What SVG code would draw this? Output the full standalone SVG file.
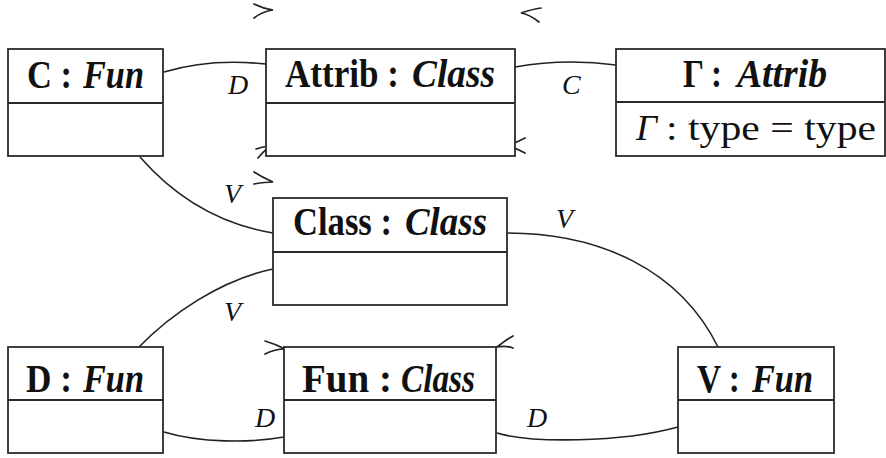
<svg xmlns="http://www.w3.org/2000/svg" width="886" height="458" viewBox="0 0 886 458">
<style>
.box{fill:#fff;stroke:#2a2a2a;stroke-width:1.8}
.div{stroke:#2a2a2a;stroke-width:1.8}
.title{font-family:"Liberation Serif","Times New Roman","DejaVu Serif",serif;font-size:41px;font-weight:bold;fill:#111}
.it{font-style:italic}
.attr{font-family:"Liberation Serif","Times New Roman","DejaVu Serif",serif;font-size:35px;fill:#111}
.lbl{font-family:"Liberation Serif","Times New Roman","DejaVu Serif",serif;font-size:28px;font-style:italic;fill:#111}
.edge{fill:none;stroke:#222;stroke-width:1.6}
.tip{fill:none;stroke:#222;stroke-width:1.7;stroke-linecap:round}
</style>
<rect width="886" height="458" fill="#fff"/>
<g id="connectors">
<path class="edge" d="M164,72 Q 210,58 266,64"/>
<path class="edge" d="M515,67 Q 565,58 616,65"/>
<path class="edge" d="M140,157 Q 195,220 273,233"/>
<path class="edge" d="M507,233 C 600,233 680,270 718,347"/>
<path class="edge" d="M139,347 C 170,315 220,280 273,269"/>
<path class="edge" d="M164,432 C 200,443 250,443 284,437"/>
<path class="edge" d="M497,433 C 530,443 620,443 678,427"/>
<path class="tip" d="M254,4 C 260,7 266,9 273,10 C 266,11 259,14 254,18"/>
<path class="tip" d="M541,8 C 534,9 527,11 521,13 C 528,14 534,18 539,22"/>
<path class="tip" d="M256,149 C 262,147 268,146 273,145 C 267,148 262,153 258,158"/>
<path class="tip" d="M254,172 C 260,176 266,179 273,182 C 266,182 260,183 254,184"/>
<path class="tip" d="M525,138 C 519,141 513,144 507,146 C 513,147 519,150 525,153"/>
<path class="tip" d="M265,341 C 272,343 279,346 285,349 C 278,349 271,351 265,354"/>
<path class="tip" d="M513,336 C 507,339 502,343 497,347 C 503,346 508,346 513,348"/>
<text class="lbl" x="228" y="94">D</text>
<text class="lbl" x="562" y="94">C</text>
<text class="lbl" x="224" y="203">V</text>
<text class="lbl" x="556" y="228">V</text>
<text class="lbl" x="224" y="321">V</text>
<text class="lbl" x="255" y="427">D</text>
<text class="lbl" x="527" y="427">D</text>
</g>
<g id="node-C">
<rect class="box" x="8" y="49" width="155" height="107"/>
<line class="div" x1="8" y1="103" x2="163" y2="103"/>
<text class="title" x="27" y="88" textLength="45" lengthAdjust="spacingAndGlyphs">C :</text>
<text class="title it" x="83" y="88" textLength="61" lengthAdjust="spacingAndGlyphs">Fun</text>
</g>
<g id="node-Attrib">
<rect class="box" x="266" y="49" width="249" height="107"/>
<line class="div" x1="266" y1="103" x2="515" y2="103"/>
<text class="title" x="285" y="87" textLength="114" lengthAdjust="spacingAndGlyphs">Attrib :</text>
<text class="title it" x="412" y="87" textLength="83" lengthAdjust="spacingAndGlyphs">Class</text>
</g>
<g id="node-Gamma">
<rect class="box" x="616" y="49" width="269" height="107"/>
<line class="div" x1="616" y1="102" x2="885" y2="102"/>
<text class="title" x="683" y="87" textLength="39" lengthAdjust="spacingAndGlyphs">Γ :</text>
<text class="title it" x="737" y="87" textLength="90" lengthAdjust="spacingAndGlyphs">Attrib</text>
<text class="attr it" x="636" y="140" textLength="21" lengthAdjust="spacingAndGlyphs">Γ</text>
<text class="attr" x="666" y="140" textLength="210" lengthAdjust="spacingAndGlyphs">: type = type</text>
</g>
<g id="node-Class">
<rect class="box" x="273" y="198" width="234" height="107"/>
<line class="div" x1="273" y1="252" x2="507" y2="252"/>
<text class="title" x="293" y="235" textLength="99" lengthAdjust="spacingAndGlyphs">Class :</text>
<text class="title it" x="405" y="235" textLength="82" lengthAdjust="spacingAndGlyphs">Class</text>
</g>
<g id="node-D">
<rect class="box" x="8" y="347" width="155" height="106"/>
<line class="div" x1="8" y1="400" x2="163" y2="400"/>
<text class="title" x="26" y="392" textLength="46" lengthAdjust="spacingAndGlyphs">D :</text>
<text class="title it" x="83" y="392" textLength="61" lengthAdjust="spacingAndGlyphs">Fun</text>
</g>
<g id="node-Fun">
<rect class="box" x="284" y="347" width="212" height="106"/>
<line class="div" x1="284" y1="400" x2="496" y2="400"/>
<text class="title" x="302" y="392" textLength="90" lengthAdjust="spacingAndGlyphs">Fun :</text>
<text class="title it" x="401" y="392" textLength="74" lengthAdjust="spacingAndGlyphs">Class</text>
</g>
<g id="node-V">
<rect class="box" x="678" y="347" width="156" height="106"/>
<line class="div" x1="678" y1="400" x2="834" y2="400"/>
<text class="title" x="697" y="392" textLength="43" lengthAdjust="spacingAndGlyphs">V :</text>
<text class="title it" x="752" y="392" textLength="61" lengthAdjust="spacingAndGlyphs">Fun</text>
</g>
</svg>
